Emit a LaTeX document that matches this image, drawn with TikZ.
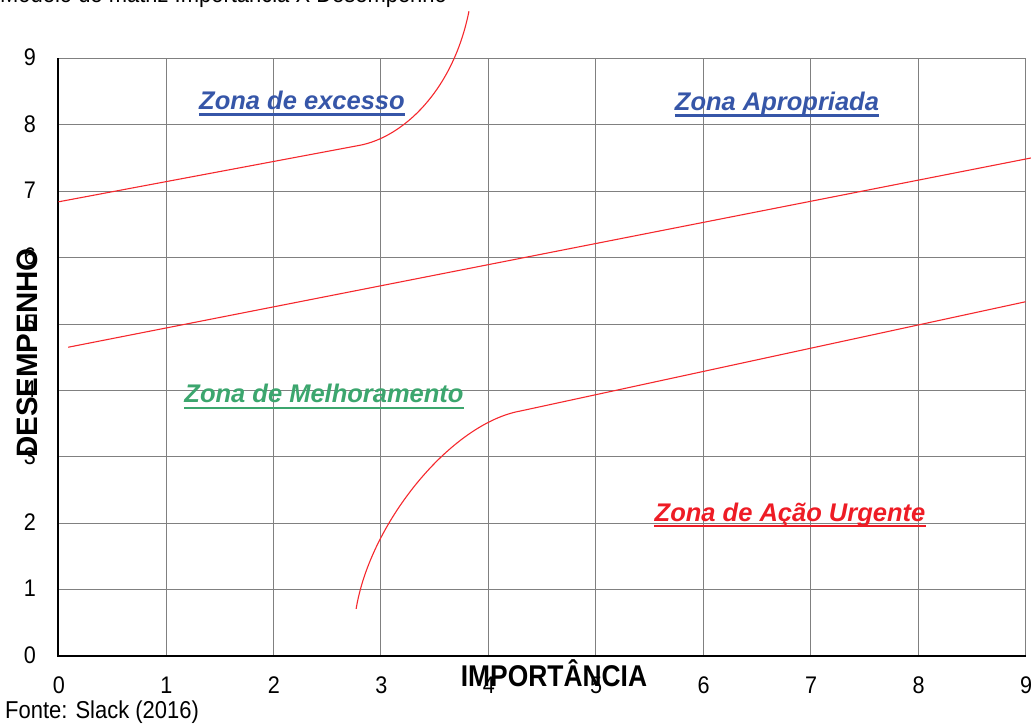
\documentclass[tikz,border=0pt]{standalone}
\usepackage{fontspec}
\setmainfont{Liberation Sans}
\newfontfamily\condfont[FakeStretch=0.9]{Liberation Sans}
\newfontfamily\condbold[FakeStretch=0.88]{Liberation Sans Bold}
\definecolor{zblue}{RGB}{54,86,168}
\definecolor{zgreen}{RGB}{60,166,110}
\definecolor{zred}{RGB}{238,28,37}
\definecolor{curvered}{RGB}{245,40,45}
\begin{document}
\begin{tikzpicture}[x=107.45pt,y=66.4pt,
  gridline/.style={draw=black!50,line width=0.8pt},
  axisline/.style={draw=black,line width=2pt},
  curve/.style={draw=curvered,line width=1.1pt},
  tick/.style={font=\fontsize{24}{24}\selectfont\condfont,inner sep=0pt},
  zone/.style={font=\fontsize{25.5}{26}\selectfont\bfseries\itshape,inner sep=0pt,anchor=base},
  uline/.style={line width=2.2pt}
]
\useasboundingbox (-58.5pt,-70pt) rectangle (972.5pt,656pt);
% grid
\foreach \i in {1,...,9} \draw[gridline] (\i,0) -- (\i,9);
\foreach \j in {1,...,9} \draw[gridline] (0,\j) -- (9,\j);
% axes
\draw[axisline] (0,9) -- (0,0) -- (9,0);
% tick labels
\foreach \j in {0,...,9} \node[tick] (yl\j) at ([xshift=-28.5pt,yshift=1pt]0,\j) {\j};
\foreach \i in {0,...,9} \node[tick] (xl\i) at ([xshift=0.5pt,yshift=-29pt]\i,0) {\i};
% curves
\draw[curve] (0,6.84) -- (2.8,7.69) .. controls (3.2,7.81) and (3.67,8.5) .. (3.82,9.71);
\draw[curve] (0.09,4.65) -- (9.05,7.50);
\draw[curve] (2.77,0.71) .. controls (2.9,2.0) and (3.65,3.5) .. (4.3,3.69) -- (9.0,5.335);
% zone labels
\node[zone,text=zblue] (exc) at (243.5pt,546pt) {Zona de excesso};
\draw[zblue,uline] ([yshift=-4.5pt]exc.base west) -- ([yshift=-4.5pt]exc.base east);
\node[zone,text=zblue] (apr) at (718.5pt,545pt) {Zona Apropriada};
\draw[zblue,uline] ([yshift=-4.5pt]apr.base west) -- ([yshift=-4.5pt]apr.base east);
\node[zone,text=zgreen] (mel) at (265.5pt,253pt) {Zona de Melhoramento};
\draw[zgreen,uline] ([yshift=-5pt]mel.base west) -- ([yshift=-5pt]mel.base east);
\node[zone,text=zred] (urg) at (731.5pt,134pt) {Zona de Ação Urgente};
\draw[zred,uline] ([yshift=-4pt]urg.base west) -- ([yshift=-4pt]urg.base east);
% axis titles
\node[font=\fontsize{30}{30}\selectfont\condbold,inner sep=0pt,anchor=base] (xtitle) at (495.5pt,-30pt) {IMPORTÂNCIA};
\node[font=\fontsize{29.5}{30}\selectfont\bfseries,inner sep=0pt,rotate=90] (ytitle) at (-31.5pt,303pt) {DESEMPENHO};
% captions
\node[font=\fontsize{24.4}{25}\selectfont\condfont,inner sep=0pt,anchor=base west] (fonte) at (-53.5pt,-62pt) {Fonte: Slack (2016)};
\node[font=\fontsize{24.4}{25}\selectfont\condfont,inner sep=0pt,anchor=base west] (title) at (-58.5pt,653pt) {Modelo de matriz Importância X Desempenho};
\end{tikzpicture}
\end{document}
